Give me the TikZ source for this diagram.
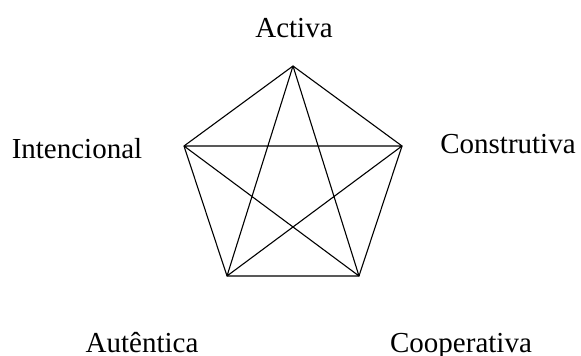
\documentclass[tikz,border=0pt]{standalone}
\usepackage{fontspec}
\setmainfont{Liberation Serif}
\begin{document}
\begin{tikzpicture}[x=1pt,y=-1pt,
  lbl/.style={anchor=base,inner sep=0pt,font=\fontsize{29}{34}\selectfont},
  edge/.style={line width=1.1pt,black}]
\useasboundingbox (0,0) rectangle (581,356);
\coordinate (A) at (293,66);
\coordinate (C) at (402,146);
\coordinate (Co) at (359,276);
\coordinate (Au) at (227,276);
\coordinate (I) at (184,146);
\draw[edge] (A) -- (C) -- (Co) -- (Au) -- (I) -- cycle;
\draw[edge] (A) -- (Co) (A) -- (Au) (C) -- (Au) (C) -- (I) (I) -- (Co);
\node[lbl] (tA) at (294,37) {Activa};
\node[lbl] (tC) at (508,153) {Construtiva};
\node[lbl] (tI) at (77,158) {Intencional};
\node[lbl] (tAu) at (142,352) {Autêntica};
\node[lbl] (tCo) at (461,352) {Cooperativa};
\end{tikzpicture}
\end{document}
